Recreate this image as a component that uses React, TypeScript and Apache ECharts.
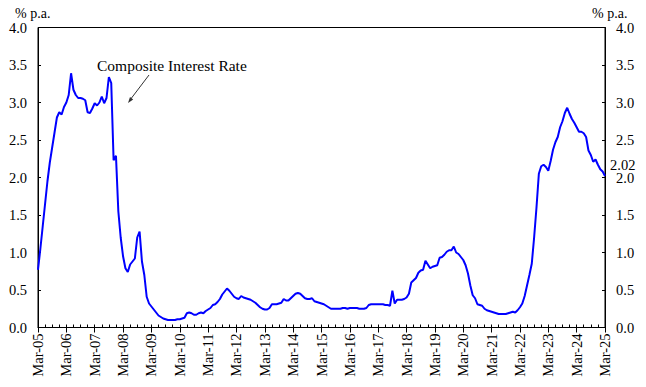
import React, { useEffect, useRef } from "react";
import * as echarts from "echarts";

const MONTHS = ["Mar", "Apr", "May", "Jun", "Jul", "Aug", "Sep", "Oct", "Nov", "Dec", "Jan", "Feb"];
const START_YEAR = 2005;
const END_YEAR = 2025;

// Composite interest rate, % p.a., monthly from Mar-05 to Mar-25
const rates: number[] = [
  0.77, 1.05, 1.35, 1.65, 1.95, 2.2, 2.4, 2.6, 2.8, 2.87, 2.84, 2.94,
  3.0, 3.1, 3.39, 3.17, 3.1, 3.06, 3.06, 3.05, 3.03, 2.87, 2.86, 2.92,
  2.99, 2.96, 3.0, 3.08, 2.99, 3.06, 3.34, 3.26, 2.23, 2.29, 1.55, 1.2,
  0.95, 0.79, 0.74, 0.84, 0.88, 0.92, 1.2, 1.28, 0.88, 0.7, 0.41, 0.32,
  0.28, 0.24, 0.2, 0.16, 0.14, 0.12, 0.11, 0.1, 0.1, 0.1, 0.1, 0.11,
  0.11, 0.12, 0.13, 0.19, 0.2, 0.19, 0.17, 0.17, 0.19, 0.2, 0.19, 0.22,
  0.24, 0.26, 0.3, 0.31, 0.34, 0.38, 0.44, 0.48, 0.52, 0.49, 0.45, 0.41,
  0.39, 0.38, 0.42, 0.4, 0.39, 0.38, 0.37, 0.35, 0.33, 0.3, 0.27, 0.25,
  0.24, 0.24, 0.26, 0.31, 0.31, 0.31, 0.32, 0.33, 0.38, 0.36, 0.36, 0.39,
  0.42, 0.45, 0.46, 0.45, 0.42, 0.39, 0.38, 0.38, 0.39, 0.35, 0.34, 0.33,
  0.32, 0.31, 0.29, 0.27, 0.25, 0.25, 0.25, 0.25, 0.25, 0.26, 0.26, 0.25,
  0.26, 0.26, 0.26, 0.26, 0.25, 0.25, 0.25, 0.26, 0.3, 0.31, 0.31, 0.31,
  0.31, 0.31, 0.31, 0.3, 0.3, 0.29, 0.49, 0.32, 0.37, 0.37, 0.37, 0.38,
  0.4, 0.45, 0.6, 0.63, 0.66, 0.73, 0.76, 0.77, 0.89, 0.84, 0.79, 0.81,
  0.82, 0.83, 0.93, 0.94, 0.97, 1.01, 1.03, 1.03, 1.08, 1.0, 0.98, 0.94,
  0.9, 0.83, 0.72, 0.56, 0.43, 0.39, 0.31, 0.3, 0.29, 0.25, 0.23, 0.22,
  0.21, 0.2, 0.19, 0.18, 0.18, 0.18, 0.18, 0.19, 0.2, 0.21, 0.2, 0.23,
  0.27, 0.32, 0.42, 0.56, 0.7, 0.85, 1.2, 1.6, 2.05, 2.15, 2.17, 2.14,
  2.09, 2.22, 2.37, 2.47, 2.54, 2.67, 2.75, 2.86, 2.93, 2.85, 2.78, 2.73,
  2.67, 2.61, 2.61, 2.59, 2.54, 2.36, 2.3, 2.21, 2.24, 2.17, 2.11, 2.08,
  2.02,
];

const categories: string[] = [];
for (let y = START_YEAR; y <= END_YEAR; y++) {
  for (let i = 0; i < 12; i++) {
    if (y === END_YEAR && i > 0) break;
    const yr = i < 10 ? y : y + 1;
    categories.push(MONTHS[i] + "-" + String(yr % 100).padStart(2, "0"));
  }
}

const yTicks = [0, 0.5, 1, 1.5, 2, 2.5, 3, 3.5, 4];
const FONT = "Liberation Serif";

export default function App() {
  const ref = useRef<HTMLDivElement>(null);
  useEffect(() => {
    if (!ref.current) return;
    const chart = echarts.init(ref.current, undefined, { renderer: "svg" });
    const yAxisCommon = {
      type: "value" as const,
      min: yTicks[0],
      max: yTicks[yTicks.length - 1],
      interval: 0.5,
      splitLine: { show: false },
      axisLine: { show: true, lineStyle: { color: "#000", width: 1 } },
      axisTick: { show: true, inside: true, length: 3, lineStyle: { color: "#000" } },
      axisLabel: {
        color: "#000",
        fontFamily: FONT,
        fontSize: 14.5,
        margin: 11,
        formatter: (v: number) => v.toFixed(1),
      },
    };
    chart.setOption({
      animation: false,
      backgroundColor: "#fff",
      grid: {
        left: 38,
        right: 41,
        top: 27.5,
        bottom: 59.5,
        show: true,
        borderColor: "#000",
        borderWidth: 1,
        containLabel: false,
        outerBoundsMode: "none",
      },
      xAxis: [
        {
          type: "category",
          data: categories,
          boundaryGap: false,
          axisLine: { show: true, lineStyle: { color: "#000", width: 1 } },
          axisTick: { show: true, inside: true, length: 3, interval: 2, lineStyle: { color: "#000" } },
          axisLabel: { show: false },
          splitLine: { show: false },
        },
        {
          type: "category",
          data: categories,
          boundaryGap: false,
          position: "bottom",
          axisLine: { show: false },
          axisTick: { show: true, inside: false, length: 5, interval: 11, lineStyle: { color: "#000" } },
          axisLabel: {
            show: true,
            interval: 11,
            rotate: 90,
            margin: 6,
            color: "#000",
            fontFamily: FONT,
            fontSize: 14.5,
          },
          splitLine: { show: false },
        },
      ],
      yAxis: [
        { ...yAxisCommon, position: "left" },
        { ...yAxisCommon, position: "right" },
      ],
      series: [
        {
          type: "line",
          data: rates,
          xAxisIndex: 0,
          yAxisIndex: 0,
          showSymbol: false,
          symbol: "none",
          lineStyle: { color: "#0000ff", width: 2 },
          endLabel: {
            show: true,
            formatter: (p: any) => Number(p.value).toFixed(2),
            color: "#000",
            fontFamily: FONT,
            fontSize: 14.5,
            distance: 5,
            offset: [0, -11],
          },
        },
      ],
      graphic: [
        {
          type: "text",
          left: 15,
          top: 6,
          style: { text: "% p.a.", fill: "#000", font: `14px '${FONT}'` },
        },
        {
          type: "text",
          left: 592,
          top: 6,
          style: { text: "% p.a.", fill: "#000", font: `14px '${FONT}'` },
        },
        {
          type: "text",
          left: 97,
          top: 57,
          style: { text: "Composite Interest Rate", fill: "#000", font: `15.5px '${FONT}'` },
        },
        {
          type: "line",
          shape: { x1: 149, y1: 75, x2: 130, y2: 100 },
          style: { stroke: "#333", lineWidth: 1 },
        },
        {
          type: "polygon",
          shape: { points: [[128, 103], [133.2, 99.4], [130, 97]] },
          style: { fill: "#333" },
        },
      ],
    });
    return () => chart.dispose();
  }, []);
  return (
    <div
      ref={ref}
      style={{ position: "fixed", left: 0, top: 0, width: 646, height: 387, background: "#fff" }}
    />
  );
}
